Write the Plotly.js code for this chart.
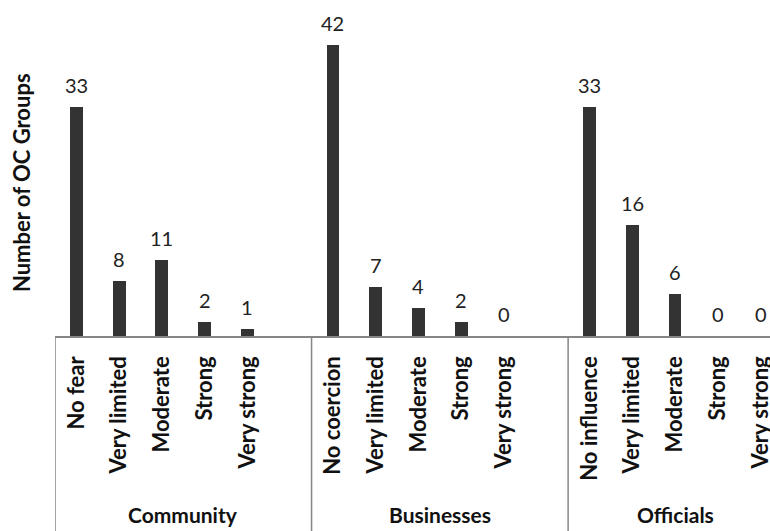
<!DOCTYPE html>
<html>
<head>
<meta charset="utf-8">
<script src="https://cdn.plot.ly/plotly-3.0.1.min.js"></script>
<style>html,body{margin:0;padding:0;background:#fff;}#chart{width:770px;height:531px;}</style>
</head>
<body>
<div id="chart"></div>
<script>
const groupNames = ["Community", "Businesses", "Officials"];
const communityLabels = ["No fear", "Very limited", "Moderate", "Strong", "Very strong"];
const communityValues = [33, 8, 11, 2, 1];
const businessLabels = ["No coercion", "Very limited", "Moderate", "Strong", "Very strong"];
const businessValues = [42, 7, 4, 2, 0];
const officialLabels = ["No influence", "Very limited", "Moderate", "Strong", "Very strong"];
const officialValues = [33, 16, 6, 0, 0];
const yTitle = "Number of OC Groups";

const groupLabels = [communityLabels, businessLabels, officialLabels];
const groupValues = [communityValues, businessValues, officialValues];

const FONT = "Lato, 'Open Sans', sans-serif";
const xs = [], ys = [], tickText = [], groupAnn = [], dividers = [];
let pos = 0;
groupLabels.forEach((labels, g) => {
  const start = pos;
  labels.forEach((lab, i) => {
    xs.push(pos); ys.push(groupValues[g][i]); tickText.push(lab); pos++;
  });
  const isLast = g === groupLabels.length - 1;
  if (!isLast) pos++; // empty slot between groups
  const left = start - 0.5, right = pos - 0.5;
  groupAnn.push({x: (left + right) / 2, text: groupNames[g]});
  dividers.push(left);
});

const annotations = [];
xs.forEach((x, i) => {
  annotations.push({
    x: x, y: ys[i], xref: 'x', yref: 'y', text: String(ys[i]),
    showarrow: false, yanchor: 'bottom', yshift: 8,
    font: {family: FONT, size: 20, color: '#222'}
  });
});
groupAnn.forEach(a => {
  annotations.push({
    x: a.x, y: -0.565, xref: 'x', yref: 'paper', text: '<b>' + a.text + '</b>',
    showarrow: false, yanchor: 'middle', xanchor: 'center',
    font: {family: FONT, size: 21, color: '#111'}
  });
});
annotations.push({
  x: -0.0476, y: 0.487, xref: 'paper', yref: 'paper', text: '<b>' + yTitle + '</b>',
  textangle: -90, showarrow: false, xanchor: 'center', yanchor: 'middle',
  font: {family: FONT, size: 22, color: '#111'}
});

const shapes = dividers.map(d => ({
  type: 'line', xref: 'x', yref: 'paper', x0: d, x1: d, y0: 0, y1: -0.62,
  line: {color: '#868686', width: 1.5}
}));

const trace = {
  type: 'bar', x: xs, y: ys, width: 0.3,
  marker: {color: '#333333'},
  hoverinfo: 'x+y'
};

const slotPx = 42.76;
const plotW = 715;
const layout = {
  width: 770, height: 531,
  margin: {l: 55, r: 0, t: 20, b: 195},
  paper_bgcolor: '#fff', plot_bgcolor: '#fff',
  showlegend: false,
  xaxis: {
    range: [-0.5, -0.5 + plotW / slotPx],
    tickmode: 'array', tickvals: xs, ticktext: tickText,
    tickangle: -90, ticks: '', showgrid: false, zeroline: false,
    showline: true, linecolor: '#868686', linewidth: 1.5,
    ticklabeloverflow: 'allow', ticklabelstandoff: 10,
    tickfont: {family: FONT, size: 22, color: '#111', weight: 'bold'},
    automargin: false
  },
  yaxis: {
    range: [0, 45.6], showgrid: false, zeroline: false, showline: false,
    showticklabels: false, ticks: '', automargin: false
  },
  annotations: annotations,
  shapes: shapes,
  bargap: 0
};

Plotly.newPlot('chart', [trace], layout, {displayModeBar: false, staticPlot: true});
</script>
</body>
</html>
